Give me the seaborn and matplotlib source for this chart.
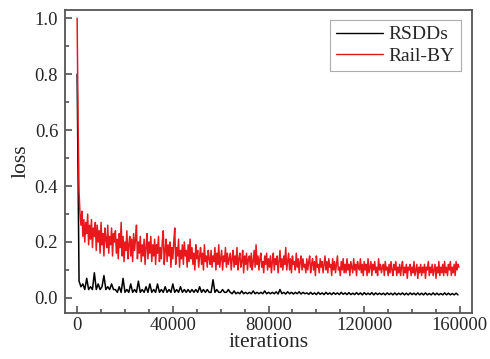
import numpy as np
import pandas as pd
import matplotlib
matplotlib.use("Agg")
import matplotlib.pyplot as plt
from matplotlib.ticker import MultipleLocator, FormatStrFormatter
import seaborn as sns

# RSDDs sampled every 800 iterations, Rail-BY every 400
rsdds_iter = np.arange(0, 160000, 800)
railby_iter = np.arange(0, 160000, 400)

# loss (RSDDs, black)
rsdds_loss = [
    0.80, 0.06, 0.04, 0.05, 0.03, 0.07, 0.03, 0.04, 0.03, 0.09, 0.03, 0.05, 0.03, 0.04, 0.08, 0.03, 0.04, 0.03, 0.05, 0.03,
    0.03, 0.02, 0.04, 0.02, 0.07, 0.02, 0.03, 0.02, 0.05, 0.02, 0.03, 0.02, 0.06, 0.02, 0.03, 0.02, 0.04, 0.02, 0.05, 0.02,
    0.03, 0.02, 0.05, 0.02, 0.03, 0.02, 0.04, 0.02, 0.03, 0.02, 0.05, 0.02, 0.03, 0.02, 0.04, 0.02, 0.03, 0.02, 0.03, 0.02,
    0.03, 0.02, 0.03, 0.02, 0.04, 0.02, 0.03, 0.02, 0.03, 0.02, 0.02, 0.065, 0.02, 0.03, 0.02, 0.02, 0.03, 0.02, 0.02, 0.03,
    0.02, 0.015, 0.025, 0.015, 0.02, 0.015, 0.025, 0.015, 0.02, 0.015, 0.02, 0.015, 0.025, 0.015, 0.02, 0.015, 0.02, 0.015, 0.025, 0.015,
    0.02, 0.015, 0.02, 0.015, 0.022, 0.014, 0.03, 0.015, 0.02, 0.014, 0.022, 0.015, 0.02, 0.014, 0.02, 0.015, 0.022, 0.014, 0.02, 0.015,
    0.018, 0.013, 0.02, 0.013, 0.018, 0.012, 0.02, 0.013, 0.018, 0.012, 0.02, 0.013, 0.018, 0.012, 0.019, 0.013, 0.018, 0.012, 0.02, 0.013,
    0.018, 0.012, 0.019, 0.012, 0.017, 0.012, 0.019, 0.012, 0.018, 0.011, 0.019, 0.012, 0.017, 0.012, 0.019, 0.011, 0.018, 0.012, 0.017, 0.012,
    0.017, 0.011, 0.018, 0.012, 0.017, 0.011, 0.018, 0.011, 0.017, 0.012, 0.018, 0.011, 0.017, 0.011, 0.018, 0.012, 0.017, 0.011, 0.018, 0.011,
    0.017, 0.011, 0.018, 0.011, 0.016, 0.011, 0.018, 0.011, 0.017, 0.011, 0.016, 0.011, 0.018, 0.011, 0.017, 0.011, 0.016, 0.011, 0.017, 0.011,
]

# loss (Rail-BY, red)
railby_loss = [
    1.00, 0.62, 0.38, 0.30, 0.26, 0.31, 0.22, 0.28, 0.20, 0.27, 0.23, 0.30, 0.19, 0.26, 0.21, 0.28, 0.18, 0.25, 0.22, 0.27,
    0.17, 0.26, 0.20, 0.24, 0.16, 0.27, 0.19, 0.23, 0.15, 0.25, 0.21, 0.18, 0.26, 0.16, 0.22, 0.19, 0.25, 0.15, 0.23, 0.20,
    0.24, 0.16, 0.21, 0.14, 0.23, 0.18, 0.27, 0.15, 0.22, 0.13, 0.20, 0.17, 0.24, 0.14, 0.19, 0.22, 0.15, 0.21, 0.13, 0.23,
    0.17, 0.21, 0.26, 0.14, 0.20, 0.16, 0.22, 0.13, 0.19, 0.15, 0.21, 0.12, 0.18, 0.23, 0.14, 0.20, 0.16, 0.22, 0.13, 0.19,
    0.15, 0.21, 0.12, 0.19, 0.16, 0.22, 0.13, 0.18, 0.14, 0.20, 0.24, 0.12, 0.17, 0.21, 0.13, 0.19, 0.15, 0.20, 0.11, 0.18,
    0.14, 0.20, 0.25, 0.12, 0.18, 0.15, 0.21, 0.11, 0.17, 0.14, 0.19, 0.12, 0.20, 0.15, 0.17, 0.11, 0.19, 0.13, 0.21, 0.14,
    0.18, 0.12, 0.16, 0.10, 0.19, 0.14, 0.17, 0.11, 0.15, 0.18, 0.12, 0.16, 0.10, 0.19, 0.13, 0.15, 0.11, 0.17, 0.14, 0.12,
    0.17, 0.11, 0.15, 0.13, 0.18, 0.10, 0.16, 0.12, 0.19, 0.11, 0.14, 0.17, 0.10, 0.15, 0.13, 0.18, 0.11, 0.16, 0.12, 0.14,
    0.16, 0.10, 0.14, 0.17, 0.11, 0.15, 0.12, 0.18, 0.10, 0.14, 0.16, 0.11, 0.13, 0.17, 0.09, 0.15, 0.12, 0.16, 0.10, 0.14,
    0.15, 0.11, 0.16, 0.10, 0.13, 0.17, 0.11, 0.19, 0.12, 0.15, 0.10, 0.14, 0.16, 0.11, 0.13, 0.09, 0.15, 0.12, 0.16, 0.10,
    0.14, 0.11, 0.15, 0.09, 0.13, 0.16, 0.10, 0.14, 0.12, 0.15, 0.09, 0.13, 0.17, 0.11, 0.14, 0.10, 0.15, 0.12, 0.18, 0.10,
    0.13, 0.16, 0.10, 0.14, 0.09, 0.15, 0.12, 0.13, 0.10, 0.16, 0.11, 0.14, 0.09, 0.13, 0.15, 0.10, 0.14, 0.11, 0.12, 0.09,
    0.14, 0.10, 0.13, 0.15, 0.09, 0.12, 0.14, 0.10, 0.13, 0.08, 0.15, 0.11, 0.12, 0.09, 0.14, 0.11, 0.13, 0.09, 0.12, 0.15,
    0.10, 0.13, 0.09, 0.14, 0.11, 0.12, 0.08, 0.14, 0.10, 0.13, 0.09, 0.12, 0.15, 0.10, 0.11, 0.08, 0.13, 0.10, 0.14, 0.09,
    0.12, 0.09, 0.14, 0.10, 0.12, 0.08, 0.13, 0.11, 0.09, 0.14, 0.10, 0.12, 0.08, 0.13, 0.11, 0.10, 0.14, 0.09, 0.12, 0.08,
    0.13, 0.10, 0.12, 0.08, 0.14, 0.09, 0.11, 0.13, 0.08, 0.12, 0.10, 0.13, 0.09, 0.11, 0.08, 0.14, 0.10, 0.12, 0.09, 0.11,
    0.12, 0.08, 0.13, 0.10, 0.11, 0.08, 0.12, 0.09, 0.13, 0.10, 0.08, 0.12, 0.10, 0.13, 0.08, 0.11, 0.09, 0.12, 0.08, 0.11,
    0.13, 0.08, 0.11, 0.09, 0.12, 0.07, 0.11, 0.10, 0.12, 0.08, 0.11, 0.09, 0.13, 0.08, 0.10, 0.12, 0.07, 0.11, 0.09, 0.12,
    0.08, 0.11, 0.09, 0.12, 0.07, 0.11, 0.10, 0.13, 0.08, 0.11, 0.09, 0.12, 0.08, 0.10, 0.12, 0.07, 0.11, 0.09, 0.13, 0.08,
    0.11, 0.09, 0.12, 0.08, 0.13, 0.09, 0.11, 0.08, 0.12, 0.10, 0.13, 0.08, 0.11, 0.09, 0.12, 0.08, 0.13, 0.10, 0.12, 0.11,
]

series_names = ["RSDDs", "Rail-BY"]
series_colors = ["#000000", "#e8191c"]

df = pd.concat([
    pd.DataFrame({"iterations": rsdds_iter, "loss": rsdds_loss, "set": series_names[0]}),
    pd.DataFrame({"iterations": railby_iter, "loss": railby_loss, "set": series_names[1]}),
])

sns.set_style("white")
plt.rcParams["font.family"] = ["Liberation Serif", "DejaVu Serif"]
plt.rcParams["xtick.direction"] = "in"
plt.rcParams["ytick.direction"] = "in"

fig = plt.figure(figsize=(4.9, 3.59), dpi=100)
ax = fig.add_axes([0.133, 0.128, 0.830, 0.844])

sns.lineplot(data=df, x="iterations", y="loss", hue="set",
             palette=dict(zip(series_names, series_colors)),
             estimator=None, sort=False, linewidth=1.1, ax=ax)

ax.set_xlim(-5000, 165000)
ax.set_ylim(-0.054, 1.029)
ax.xaxis.set_major_locator(MultipleLocator(40000))
ax.xaxis.set_minor_locator(MultipleLocator(10000))
ax.yaxis.set_major_locator(MultipleLocator(0.2))
ax.yaxis.set_minor_locator(MultipleLocator(0.1))
ax.yaxis.set_major_formatter(FormatStrFormatter("%.1f"))
ax.tick_params(which="major", length=5, width=1.1, color="#444444", labelsize=13.5)
ax.tick_params(axis="x", which="major", pad=3)
ax.tick_params(axis="y", which="major", pad=5)
ax.tick_params(which="minor", length=3, width=1.1, color="#444444")
ax.tick_params(axis="x", which="both", bottom=True)
ax.tick_params(axis="y", which="both", left=True)

for sp in ax.spines.values():
    sp.set_color("#555555")
    sp.set_linewidth(1.3)

ax.set_xlabel("iterations", fontsize=15.5, labelpad=-1)
ax.set_ylabel("loss", fontsize=15.5, labelpad=3)

leg = ax.legend(loc="upper right", fontsize=14, frameon=True, fancybox=False,
                edgecolor="#999999", handlelength=2.4, borderpad=0.3,
                labelspacing=0.2, handletextpad=0.3, borderaxespad=0,
                bbox_to_anchor=(0.973, 0.967))
leg.get_frame().set_linewidth(0.8)
for line in leg.get_lines():
    line.set_linewidth(1.0)

fig.savefig("out.png", dpi=100)
